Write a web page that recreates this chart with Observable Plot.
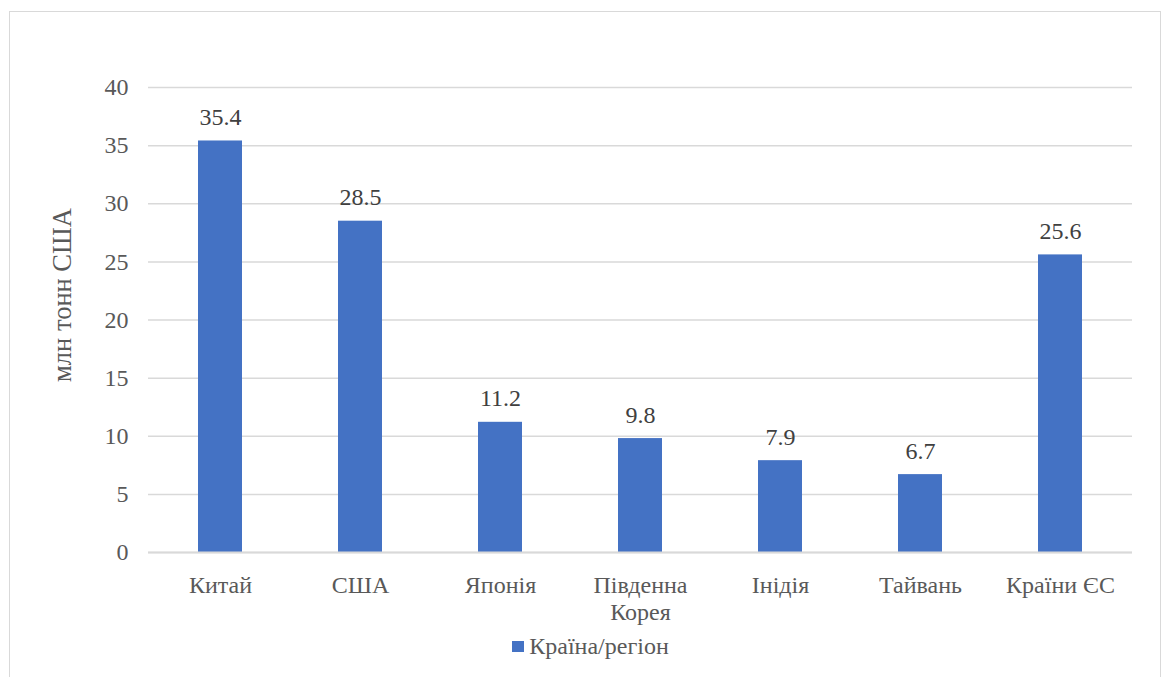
<!DOCTYPE html>
<html>
<head>
<meta charset="utf-8">
<script src="https://cdn.jsdelivr.net/npm/d3@7"></script>
<script src="https://cdn.jsdelivr.net/npm/@observablehq/plot@0.6"></script>
<style>
  html, body { margin: 0; padding: 0; background: #fff; }
  #wrap { position: relative; width: 1161px; height: 677px; overflow: hidden; font-family: 'Liberation Serif'; }
  #frame { position: absolute; left: 9px; top: 11px; width: 1152px; height: 700px; border: 1px solid #d9d9d9; box-sizing: border-box; }
  #chart { position: absolute; left: 0; top: 0; }
  #legend { position: absolute; top: 633px; left: 10px; width: 1161px; text-align: center; font-family: 'Liberation Serif'; font-size: 24px; color: #595959; white-space: nowrap; }
  #legend .sw { display: inline-block; width: 12px; height: 11px; background: #4472C4; margin-right: 5px; vertical-align: 2px; }
</style>
</head>
<body>
<div id="wrap">
  <div id="frame"></div>
  <div id="chart"></div>
  <div id="legend"><span class="sw"></span><span id="legend-label"></span></div>
</div>
<script>
const categories = ["Китай", "США", "Японія", "Південна\nКорея", "Інідія", "Тайвань", "Країни ЄС"];
const values = [35.4, 28.5, 11.2, 9.8, 7.9, 6.7, 25.6];
const yTicks = [0, 5, 10, 15, 20, 25, 30, 35, 40];
const seriesName = "Країна/регіон";
const yLabel = "млн тонн США";

document.getElementById("legend-label").textContent = seriesName;

const data = categories.map((c, i) => ({ category: c, value: values[i] }));

const chart = Plot.plot({
  width: 1161,
  height: 625,
  marginLeft: 148,
  marginRight: 29,
  marginTop: 87,
  marginBottom: 73,
  style: "font-family: 'Liberation Serif'; font-size: 24px; color: #595959; background: transparent; overflow: visible;",
  x: { domain: categories, paddingInner: 0.687, paddingOuter: 0.3435, label: null },
  y: { domain: [0, 40], label: null },
  marks: [
    Plot.gridY(yTicks, { stroke: "#d9d9d9", strokeOpacity: 1, strokeWidth: 1.5 }),
    Plot.barY(data, { x: "category", y: "value", fill: "#4472C4" }),
    Plot.ruleY([0], { stroke: "#d9d9d9", strokeWidth: 2 }),
    Plot.text(data, { x: "category", y: "value", text: d => d.value.toFixed(1), dy: -16, lineAnchor: "bottom", fill: "#404040", fontSize: 24, fontFamily: "Liberation Serif" }),
    Plot.axisY(yTicks, { tickSize: 0, tickPadding: 20, fill: "#595959", fontSize: 24, fontFamily: "Liberation Serif", label: null }),
    Plot.axisX({ tickSize: 0, tickPadding: 21, fill: "#595959", fontSize: 24, fontFamily: "Liberation Serif", lineHeight: 1.125, label: null }),
    Plot.text([yLabel], { frameAnchor: "left", rotate: -90, dx: -85.5, dy: -25, textAnchor: "middle", lineAnchor: "middle", fill: "#595959", fontSize: 26.5, fontFamily: "Liberation Serif" })
  ]
});
document.getElementById("chart").appendChild(chart);
</script>
</body>
</html>
